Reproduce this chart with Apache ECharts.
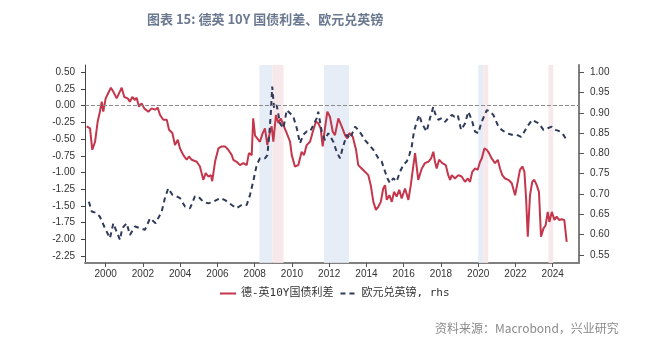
<!DOCTYPE html>
<html>
<head>
<meta charset="utf-8">
<script src="https://cdn.jsdelivr.net/npm/echarts@6/dist/echarts.min.js"></script>
<style>
html,body{margin:0;padding:0;background:#fff;}
#c{width:667px;height:342px;}
</style>
</head>
<body>
<div id="c"></div>
<script>
// ---- data (decimal year, value) ----
const spread = [
[1998.98,-0.31],[1999.16,-0.34],[1999.28,-0.66],[1999.43,-0.54],[1999.57,-0.24],[1999.69,-0.09],[1999.79,0.06],[1999.87,-0.09],
[2000.00,0.11],[2000.14,0.19],[2000.28,0.27],[2000.41,0.21],[2000.59,0.11],[2000.86,0.27],[2001.00,0.13],[2001.18,0.11],
[2001.30,0.06],[2001.43,0.13],[2001.57,0.085],[2001.66,0.12],[2001.79,-0.015],[2001.93,0.035],[2002.07,-0.04],[2002.29,-0.09],
[2002.47,-0.04],[2002.65,-0.06],[2002.79,-0.03],[2002.92,-0.14],[2003.09,-0.21],[2003.28,-0.21],[2003.40,-0.36],[2003.58,-0.41],
[2003.72,-0.59],[2003.87,-0.51],[2003.99,-0.64],[2004.17,-0.74],[2004.35,-0.81],[2004.47,-0.76],[2004.62,-0.81],[2004.89,-0.84],
[2005.06,-0.91],[2005.24,-1.11],[2005.37,-1.01],[2005.51,-1.06],[2005.65,-1.04],[2005.72,-1.13],[2005.87,-0.84],[2006.05,-0.64],
[2006.23,-0.61],[2006.41,-0.61],[2006.58,-0.66],[2006.77,-0.74],[2006.85,-0.81],[2007.03,-0.84],[2007.21,-0.89],[2007.39,-0.86],
[2007.57,-0.89],[2007.69,-0.71],[2007.84,-0.74],[2007.92,-0.19],[2008.02,-0.45],[2008.28,-0.54],[2008.43,-0.41],[2008.55,-0.34],
[2008.68,-0.59],[2008.82,-0.39],[2008.91,-0.31],[2009.00,-0.54],[2009.14,-0.14],[2009.27,-0.26],[2009.40,-0.19],[2009.54,-0.29],
[2009.72,-0.41],[2009.90,-0.54],[2009.99,-0.74],[2010.16,-0.91],[2010.34,-0.89],[2010.52,-0.69],[2010.65,-0.74],[2010.79,-0.59],
[2010.97,-0.54],[2011.15,-0.36],[2011.29,-0.24],[2011.41,-0.26],[2011.54,-0.34],[2011.65,-0.61],[2011.77,-0.34],[2011.90,-0.09],
[2012.04,-0.165],[2012.19,-0.39],[2012.31,-0.44],[2012.49,-0.19],[2012.67,-0.31],[2012.85,-0.44],[2012.97,-0.49],[2013.08,-0.41],
[2013.26,-0.46],[2013.44,-0.66],[2013.56,-0.89],[2013.74,-0.94],[2013.92,-0.99],[2014.10,-1.04],[2014.23,-1.19],[2014.37,-1.44],
[2014.51,-1.56],[2014.64,-1.51],[2014.77,-1.44],[2014.90,-1.24],[2015.00,-1.19],[2015.09,-1.41],[2015.23,-1.34],[2015.36,-1.44],
[2015.48,-1.29],[2015.62,-1.36],[2015.76,-1.26],[2015.89,-1.39],[2016.07,-1.24],[2016.25,-1.41],[2016.38,-1.19],[2016.52,-0.89],
[2016.61,-0.71],[2016.78,-1.11],[2016.97,-0.94],[2017.14,-0.86],[2017.32,-0.84],[2017.47,-0.79],[2017.59,-0.69],[2017.68,-0.84],
[2017.77,-0.94],[2017.90,-0.81],[2018.07,-0.86],[2018.26,-0.89],[2018.39,-1.04],[2018.49,-1.11],[2018.58,-1.04],[2018.75,-1.09],
[2018.93,-1.04],[2019.11,-1.06],[2019.29,-1.14],[2019.44,-1.09],[2019.56,-1.14],[2019.68,-0.99],[2019.83,-0.94],[2019.97,-0.96],
[2020.10,-0.84],[2020.19,-0.79],[2020.33,-0.64],[2020.46,-0.66],[2020.58,-0.71],[2020.72,-0.79],[2020.90,-0.86],[2021.05,-0.81],
[2021.17,-0.94],[2021.29,-1.04],[2021.44,-1.09],[2021.62,-1.11],[2021.80,-1.16],[2021.98,-1.34],[2022.12,-1.14],[2022.24,-0.96],
[2022.37,-0.91],[2022.48,-0.99],[2022.57,-1.39],[2022.66,-1.96],[2022.78,-1.34],[2022.90,-1.14],[2023.01,-1.11],[2023.14,-1.19],
[2023.26,-1.29],[2023.37,-1.96],[2023.50,-1.84],[2023.62,-1.79],[2023.73,-1.59],[2023.82,-1.74],[2023.95,-1.59],[2024.09,-1.71],
[2024.21,-1.66],[2024.34,-1.71],[2024.48,-1.70],[2024.62,-1.71],[2024.75,-2.04]
];
const eurgbp = [
[1999.10,0.681],[1999.25,0.657],[1999.52,0.653],[1999.69,0.644],[1999.96,0.616],[2000.23,0.591],[2000.41,0.628],[2000.59,0.607],
[2000.77,0.587],[2000.89,0.616],[2001.13,0.628],[2001.30,0.599],[2001.57,0.620],[2001.84,0.616],[2002.11,0.612],[2002.38,0.640],
[2002.68,0.628],[2003.01,0.657],[2003.18,0.690],[2003.36,0.714],[2003.58,0.698],[2003.81,0.694],[2003.99,0.690],[2004.26,0.669],
[2004.53,0.665],[2004.79,0.694],[2004.97,0.694],[2005.24,0.681],[2005.51,0.677],[2005.78,0.681],[2006.14,0.690],[2006.41,0.685],
[2006.77,0.673],[2007.03,0.665],[2007.30,0.673],[2007.57,0.673],[2007.75,0.698],[2007.92,0.731],[2008.11,0.772],[2008.28,0.788],
[2008.55,0.788],[2008.68,0.796],[2008.78,0.846],[2008.86,0.895],[2008.94,0.965],[2009.04,0.911],[2009.18,0.919],[2009.36,0.874],
[2009.54,0.862],[2009.72,0.907],[2009.90,0.899],[2010.07,0.891],[2010.26,0.862],[2010.43,0.825],[2010.61,0.846],[2010.79,0.854],
[2010.97,0.854],[2011.15,0.870],[2011.33,0.887],[2011.41,0.903],[2011.60,0.854],[2011.77,0.833],[2011.95,0.850],[2012.22,0.829],
[2012.40,0.804],[2012.58,0.788],[2012.72,0.813],[2012.94,0.846],[2013.12,0.837],[2013.39,0.866],[2013.56,0.858],[2013.74,0.846],
[2013.92,0.833],[2014.15,0.821],[2014.37,0.809],[2014.64,0.788],[2014.82,0.780],[2015.00,0.755],[2015.12,0.739],[2015.26,0.727],
[2015.44,0.739],[2015.62,0.731],[2015.80,0.755],[2015.98,0.772],[2016.16,0.780],[2016.30,0.796],[2016.43,0.817],[2016.55,0.854],
[2016.70,0.878],[2016.84,0.895],[2016.97,0.874],[2017.23,0.854],[2017.41,0.887],[2017.59,0.915],[2017.68,0.899],[2017.86,0.883],
[2018.04,0.887],[2018.22,0.878],[2018.39,0.887],[2018.58,0.895],[2018.72,0.891],[2018.90,0.895],[2019.08,0.858],[2019.29,0.874],
[2019.47,0.903],[2019.65,0.883],[2019.83,0.854],[2020.01,0.850],[2020.15,0.874],[2020.27,0.887],[2020.46,0.907],[2020.64,0.903],
[2020.81,0.895],[2021.05,0.870],[2021.26,0.858],[2021.53,0.850],[2021.80,0.846],[2022.07,0.846],[2022.30,0.841],[2022.48,0.854],
[2022.69,0.870],[2022.90,0.883],[2023.09,0.878],[2023.26,0.874],[2023.50,0.858],[2023.73,0.862],[2023.95,0.866],[2024.16,0.858],
[2024.40,0.854],[2024.57,0.846],[2024.75,0.833]
];
const yearTicks = [2000,2002,2004,2006,2008,2010,2012,2014,2016,2018,2020,2022,2024];
const leftTicks = [-2.25,-2.00,-1.75,-1.50,-1.25,-1.00,-0.75,-0.50,-0.25,0.00,0.25,0.50];
const rightTicks = [0.55,0.60,0.65,0.70,0.75,0.80,0.85,0.90,0.95,1.00];
// shaded periods [start, end, kind]
const bands = [[2008.25,2008.95,'b'],[2008.95,2009.55,'p'],[2011.72,2013.06,'b'],[2020.00,2020.27,'b'],[2020.27,2020.54,'p'],[2023.77,2024.03,'p']];
const seriesNames = ['德-英10Y国债利差','欧元兑英镑, rhs'];

const bandColor = {b:'rgba(226,234,246,0.85)', p:'rgba(246,228,231,0.85)'};
const chart = echarts.init(document.getElementById('c'), null, {renderer:'canvas'});
const axisFont = 'Liberation Sans, Arial, sans-serif';
chart.setOption({
  animation:false,
  backgroundColor:'#fff',
  title:{
    text:'图表 15: 德英 10Y 国债利差、欧元兑英镑',
    left:142, top:8,
    textStyle:{fontFamily:'Noto Sans CJK SC', fontSize:13, fontWeight:'bold', color:'#6a7890'}
  },
  legend:{
    left:214, top:283, itemWidth:16, itemHeight:10, itemGap:6,
    itemStyle:{opacity:0},
    textStyle:{fontFamily:'DejaVu Sans Mono, Noto Sans CJK SC', fontSize:11, color:'#333'},
    data:seriesNames
  },
  graphic:[{
    type:'text', left:435, top:322,
    style:{text:'资料来源：Macrobond，兴业研究', fill:'#8a8a8a', font:'12px "Noto Sans CJK SC"'}
  }],
  grid:{left:85, right:88, top:65, bottom:79, containLabel:false},
  xAxis:{
    type:'value', min:1998.89, max:2025.41,
    splitLine:{show:false},
    axisLine:{onZero:false, lineStyle:{color:'#808080', width:2}},
    axisTick:{show:true, customValues:yearTicks, length:4, lineStyle:{color:'#555'}},
    axisLabel:{customValues:yearTicks, formatter:v=>String(Math.round(v)), color:'#333', fontSize:10, fontFamily:axisFont, margin:6}
  },
  yAxis:[{
    type:'value', min:-2.355, max:0.609, position:'left',
    splitLine:{show:false},
    axisLine:{show:true, onZero:false, lineStyle:{color:'#444', width:1}},
    axisTick:{show:true, customValues:leftTicks, length:4, lineStyle:{color:'#444'}},
    axisLabel:{customValues:leftTicks, formatter:v=>v.toFixed(2), color:'#333', fontSize:10, fontFamily:axisFont, margin:10}
  },{
    type:'value', min:0.530, max:1.018, position:'right',
    splitLine:{show:false},
    axisLine:{show:true, onZero:false, lineStyle:{color:'#808080', width:2}},
    axisTick:{show:true, customValues:rightTicks, length:5, lineStyle:{color:'#555'}},
    axisLabel:{customValues:rightTicks, formatter:v=>v.toFixed(2), color:'#333', fontSize:10, fontFamily:axisFont, margin:11}
  }],
  series:[{
    name:seriesNames[0], type:'line', yAxisIndex:0, data:spread,
    showSymbol:false, symbol:'none',
    lineStyle:{color:'#c4364c', width:2}, itemStyle:{color:'#c4364c'},
    markArea:{silent:true, data:bands.map(b=>[{xAxis:b[0], itemStyle:{color:bandColor[b[2]]}},{xAxis:b[1]}])},
    markLine:{silent:true, symbol:['none','none'], label:{show:false},
      lineStyle:{color:'#8c8c8c', type:'dashed', width:1}, data:[{yAxis:0}]}
  },{
    name:seriesNames[1], type:'line', yAxisIndex:1, data:eurgbp,
    showSymbol:false, symbol:'none',
    lineStyle:{color:'#2e3a58', width:2, type:[5,4]}, itemStyle:{color:'#2e3a58'}
  }]
});
</script>
</body>
</html>
